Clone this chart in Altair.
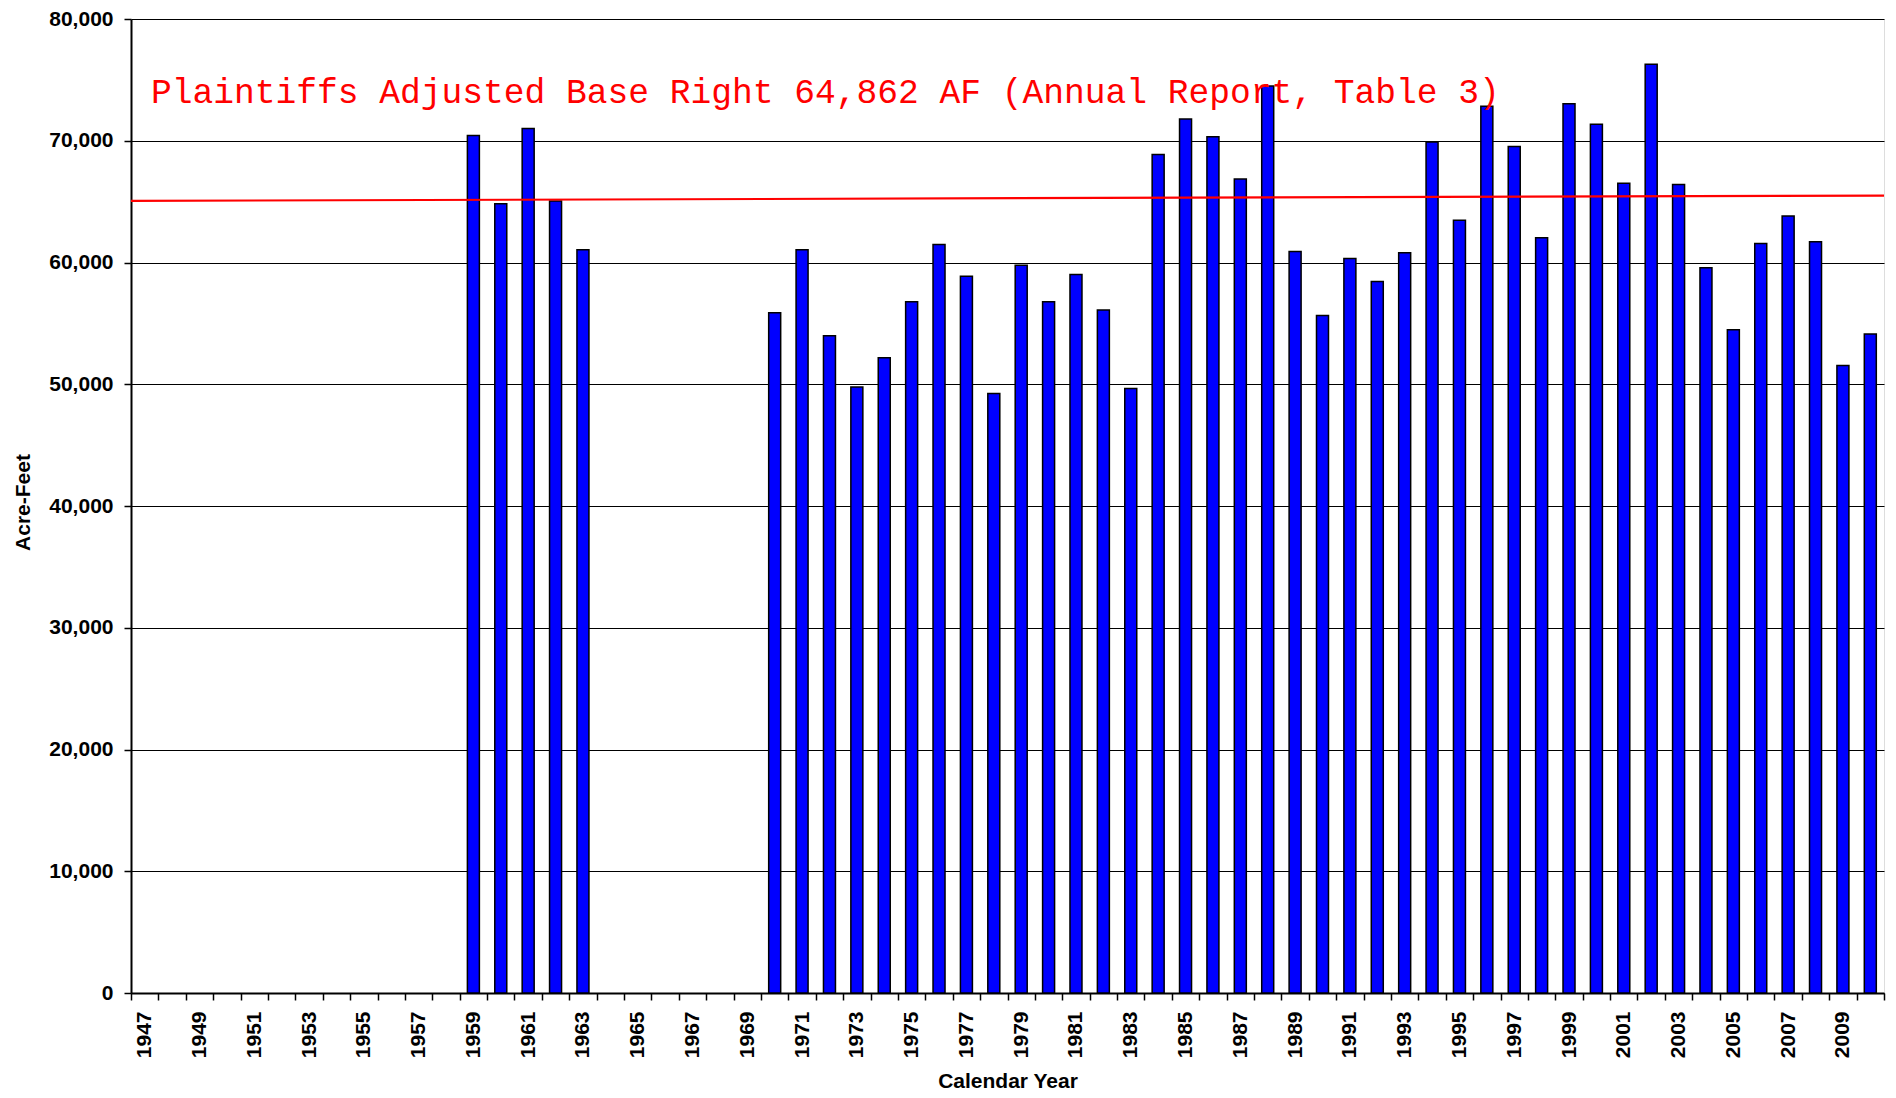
import altair as alt
import pandas as pd

# ---- data ----
years = list(range(1947, 2011))
acre_feet = [
    None, None, None, None, None, None, None, None, None, None, None, None,  # 1947-1958
    70440, 64835, 71016, 65055, 61044,                                        # 1959-1963
    None, None, None, None, None, None,                                       # 1964-1969
    55874, 61038, 53989, 49783, 52186, 56776, 61475, 58880, 49240, 59781,     # 1970-1979
    56776, 59016, 56100, 49650, 68874, 71786, 70330, 66868, 74505, 60907,     # 1980-1989
    55650, 60330, 58434, 60797, 69890, 63462, 72830, 69533, 62033, 73049,     # 1990-1999
    71346, 66511, 76291, 66401, 59564, 54470, 61566, 63819, 61703, 51550,     # 2000-2009
    54120,                                                                    # 2010
]
base_right_start = [65060]
base_right_end = [65495]
annotation = ["Plaintiffs Adjusted Base Right 64,862 AF (Annual Report, Table 3)"]
y_ticks = [0, 10000, 20000, 30000, 40000, 50000, 60000, 70000, 80000]

W, H = 1753, 974

df = pd.DataFrame({"year": years, "af": acre_feet}).dropna()
line_df = pd.DataFrame({"y0": base_right_start, "y1": base_right_end})
text_df = pd.DataFrame({"label": annotation})

FONT = "Liberation Sans"

x_enc = alt.X(
    "year:O",
    scale=alt.Scale(domain=years, paddingInner=0, paddingOuter=0),
    axis=alt.Axis(
        title="Calendar Year",
        labelExpr="datum.value % 2 == 1 ? datum.label : ''",
        labelAngle=270, labelAlign="right", labelBaseline="middle",
        labelFont=FONT, labelFontWeight="bold", labelFontSize=21, labelColor="black",
        labelPadding=11, labelOverlap=False,
        tickBand="extent", tickSize=7, tickColor="black", tickWidth=1.5,
        domainColor="black", domainWidth=2, grid=False,
        titleFont=FONT, titleFontWeight="bold", titleFontSize=21, titleColor="black",
        titleX=W / 2, titleY=94, titleBaseline="alphabetic", titleAlign="center",
        orient="bottom",
    ),
)

y_enc = alt.Y(
    "af:Q",
    scale=alt.Scale(domain=[0, 80000], nice=False),
    axis=alt.Axis(
        values=y_ticks, format=",.0f", title="Acre-Feet",
        labelFont=FONT, labelFontWeight="bold", labelFontSize=21, labelColor="black",
        labelPadding=11, tickSize=7, tickColor="black", tickWidth=1.5,
        domainColor="black", domainWidth=2,
        grid=True, gridColor="black", gridWidth=1.2,
        titleFont=FONT, titleFontWeight="bold", titleFontSize=21, titleColor="black",
        titleAngle=270, titleX=-102, titleY=H / 2 - 4, titleBaseline="alphabetic",
        titleAlign="center",
    ),
)

bars = alt.Chart(df).mark_bar(
    width=12, color="#0000FF", stroke="black", strokeWidth=1.5
).encode(x=x_enc, y=y_enc)

rule = alt.Chart(line_df).mark_rule(color="#FF0000", strokeWidth=2.2).encode(
    x=alt.value(0), x2=alt.value(W),
    y=alt.Y("y0:Q"), y2=alt.Y2("y1:Q"),
)

text = alt.Chart(text_df).mark_text(
    font="Liberation Mono", fontSize=34.6, color="#FF0000",
    align="left", baseline="alphabetic",
).encode(x=alt.value(20), y=alt.value(84), text="label:N")

chart = alt.layer(bars, rule, text).properties(
    width=W, height=H,
    autosize=alt.AutoSizeParams(type="none"),
    padding={"left": 123, "top": 11, "right": 4, "bottom": 97},
).configure_view(stroke="black", strokeWidth=1.5).configure(background="white")

chart.save("out.html", embed_options={"renderer": "svg", "actions": False})
